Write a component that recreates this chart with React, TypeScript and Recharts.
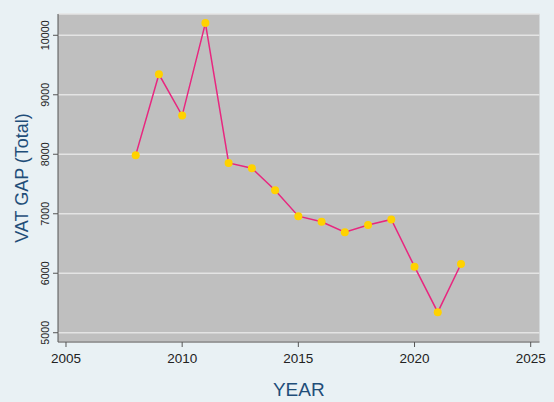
import { LineChart, Line, XAxis, YAxis, CartesianGrid } from 'recharts'

const years = [2008, 2009, 2010, 2011, 2012, 2013, 2014, 2015, 2016, 2017, 2018, 2019, 2020, 2021, 2022]
const vatGap = [7985, 9345, 8650, 10205, 7855, 7765, 7395, 6960, 6865, 6690, 6810, 6905, 6110, 5345, 6155]
const xTicks = [2005, 2010, 2015, 2020, 2025]
const yTicks = [5000, 6000, 7000, 8000, 9000, 10000]

const data = years.map((year, i) => ({ year, gap: vatGap[i] }))

const font = '"Liberation Sans", Arial, sans-serif'
const titleColor = '#1f4e79'

function YTick(props: any) {
    const { x, y, payload } = props
    const bx = x + 2
    return (
        <text
            x={bx}
            y={y}
            transform={`rotate(-90, ${bx}, ${y})`}
            textAnchor="middle"
            fontSize={10.8}
            fontFamily={font}
            fill="#222"
        >
            {payload.value}
        </text>
    )
}

export default function App() {
    return (
        <div style={{ position: 'absolute', left: 0, top: 0, width: 554, height: 402, background: '#e9f1f4' }}>
            <LineChart
                width={554}
                height={402}
                data={data}
                margin={{ top: 14, right: 14.5, bottom: 0, left: 0 }}
            >
                <CartesianGrid
                    vertical={false}
                    fill="#bfbfbf"
                    stroke="#e4e4e4"
                    strokeWidth={1.6}
                />
                <XAxis
                    dataKey="year"
                    type="number"
                    domain={[2004.656, 2025.379]}
                    ticks={xTicks}
                    interval={0}
                    allowDataOverflow
                    height={60}
                    tickSize={5}
                    tickMargin={6}
                    stroke="#555"
                    tick={{ fill: '#222', fontSize: 13.5, fontFamily: font }}
                    label={{
                        value: 'YEAR',
                        position: 'insideBottom',
                        offset: 6,
                        fill: titleColor,
                        fontSize: 19,
                        fontFamily: font,
                    }}
                />
                <YAxis
                    type="number"
                    domain={[4844, 10358]}
                    ticks={yTicks}
                    interval={0}
                    allowDataOverflow
                    width={58}
                    tickSize={5}
                    tickMargin={6}
                    stroke="#555"
                    tick={<YTick />}
                    label={{
                        value: 'VAT GAP (Total)',
                        angle: -90,
                        position: 'center',
                        dx: -7.5,
                        fill: titleColor,
                        fontSize: 18,
                        fontFamily: font,
                    }}
                />
                <Line
                    type="linear"
                    dataKey="gap"
                    stroke="#e8277f"
                    strokeWidth={1.5}
                    dot={{ fill: '#ffd200', stroke: 'none', r: 4 }}
                    activeDot={false}
                    isAnimationActive={false}
                />
            </LineChart>
        </div>
    )
}
